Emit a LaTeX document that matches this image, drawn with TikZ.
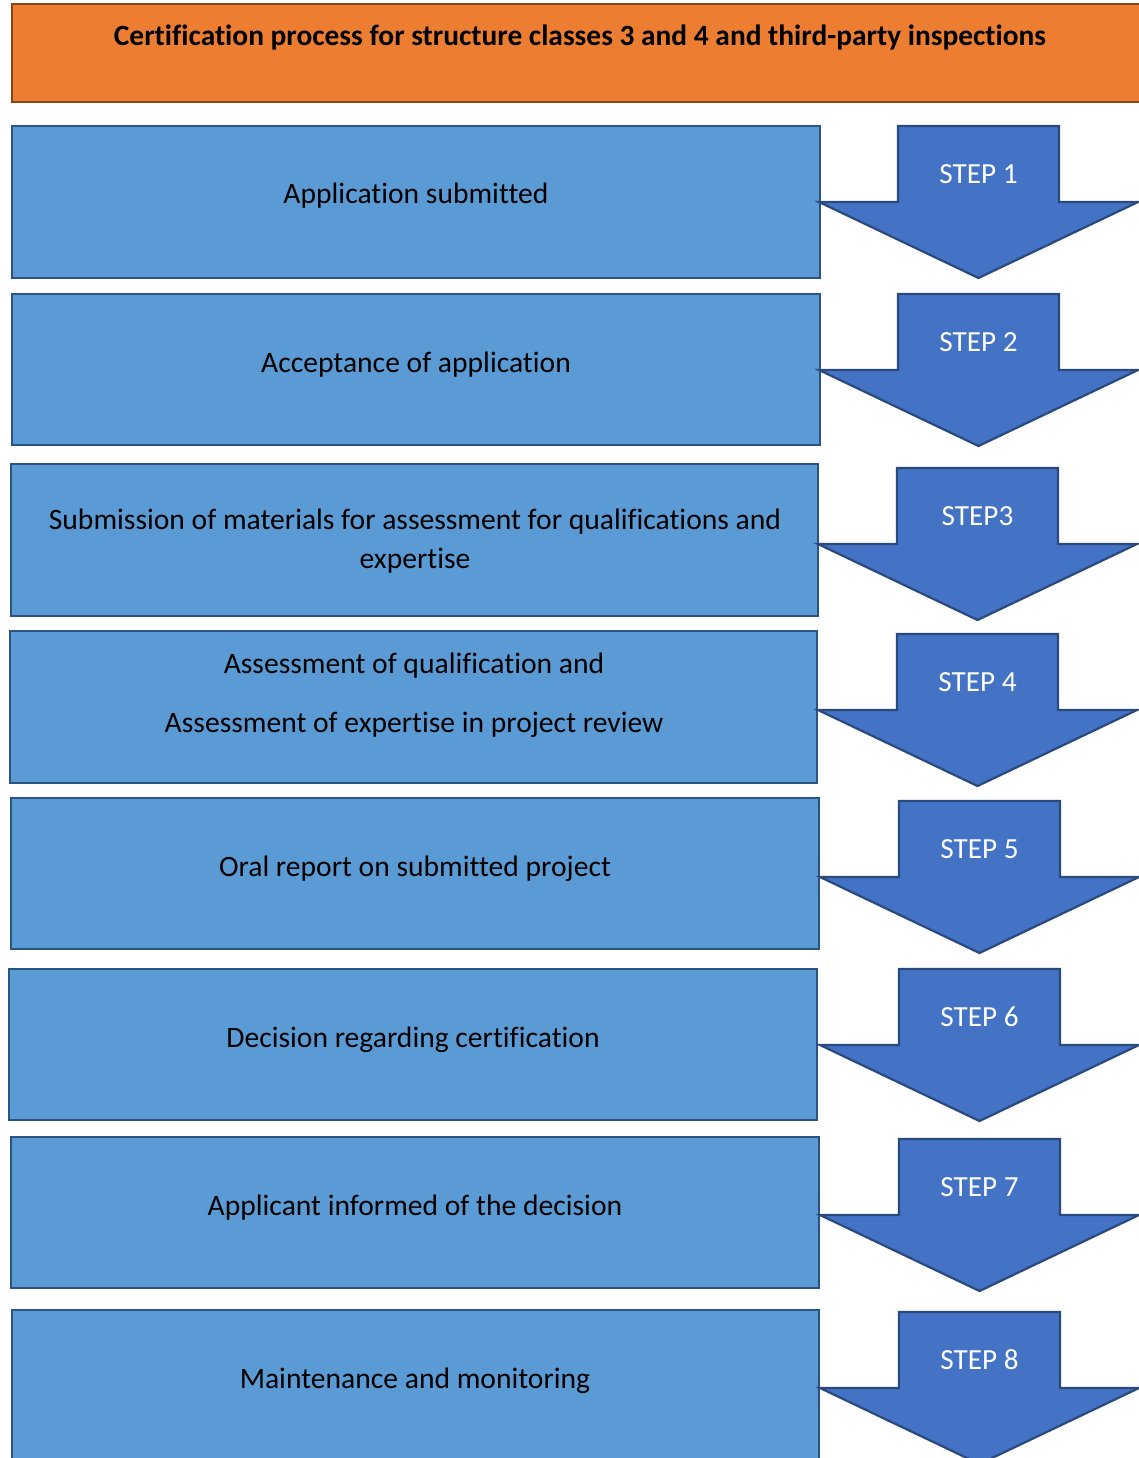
\documentclass[tikz,border=0pt]{standalone}
\usepackage{fontspec}
\setmainfont[Ligatures=NoCommon]{Carlito}
\definecolor{headfill}{HTML}{ED7D31}
\definecolor{headline}{HTML}{8A4418}
\definecolor{boxfill}{HTML}{5B9BD5}
\definecolor{boxline}{HTML}{2A5382}
\definecolor{arrowfill}{HTML}{4472C4}
\definecolor{arrowline}{HTML}{2A4A7E}
\begin{document}
\begin{tikzpicture}[x=0.5pt,y=-0.5pt,
  headbox/.style={draw=headline,fill=headfill,line width=1.2pt},
  stepbox/.style={draw=boxline,fill=boxfill,line width=1.2pt},
  steparrow/.style={draw=arrowline,fill=arrowfill,line width=1.1pt,line join=miter},
  boxtext/.style={font=\fontsize{14.8}{19.5}\selectfont,align=center,inner sep=0pt},
  steplabel/.style={font=\fontsize{14.6}{17}\selectfont,text=white,inner sep=0pt}]
  \useasboundingbox (0,0) rectangle (1139,1458);
  % header
  \draw[headbox] (12,4) rectangle (1150,102);
  \node[font=\fontsize{14.7}{17}\bfseries\selectfont,inner sep=0pt] (title) at (580,37)
    {Certification process for structure classes 3 and 4 and third-party inspections};
  % process boxes
  \foreach \n/\l/\t/\r/\b in {1/12/126/820/278,2/12/294/820/445,3/11/464/818/616,
      4/10/631/817/783,5/11/798/819/949,6/9/969/817/1120,7/11/1137/819/1288,8/12/1310/819/1470}
    \draw[stepbox] (\l,\t) rectangle (\r,\b);
  \node[boxtext] (text1) at (416,196) {Application submitted};
  \node[boxtext] (text2) at (416,365) {Acceptance of application};
  \node[boxtext] (text3) at (415,541) {Submission of materials for assessment for qualifications and\\expertise};
  \node[boxtext] (text4) at (414,695) {Assessment of qualification and\\[10pt]Assessment of expertise in project review};
  \node[boxtext] (text5) at (415,869) {Oral report on submitted project};
  \node[boxtext] (text6) at (413,1040) {Decision regarding certification};
  \node[boxtext] (text7) at (415,1208) {Applicant informed of the decision};
  \node[boxtext] (text8) at (415,1381) {Maintenance and monitoring};
  % step arrows
  \foreach \n/\x/\t/\lab in {1/898/126/STEP 1,2/898/294/STEP 2,3/897/468/STEP3,4/897/634/STEP 4,
      5/899/801/STEP 5,6/899/969/STEP 6,7/899/1139/STEP 7,8/899/1312/STEP 8}{
    \draw[steparrow] (\x,\t) -- ++(161,0) -- ++(0,76) -- ++(79,0) -- ++(-159.5,76)
      -- ++(-159.5,-76) -- ++(79,0) -- cycle;
    \node[steplabel] (step\n) at (\x+80.5,\t+48) {\lab};
  }
\end{tikzpicture}
\end{document}
